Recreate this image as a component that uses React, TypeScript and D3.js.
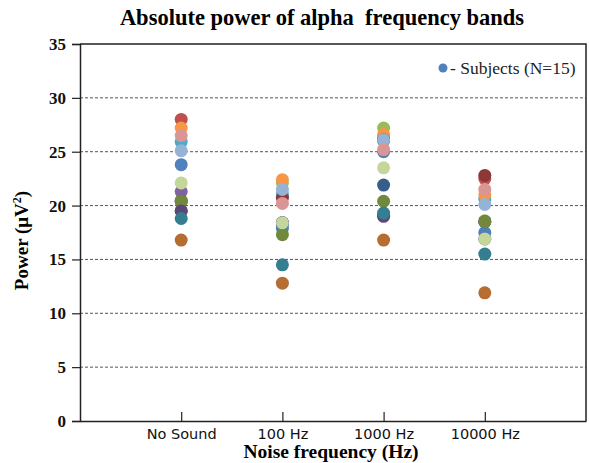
import { useEffect, useRef } from "react";
import * as d3 from "d3";

// categories on the x axis
const conditions = ["No Sound", "100 Hz", "1000 Hz", "10000 Hz"];
const yTicks = [0, 5, 10, 15, 20, 25, 30, 35];

// one array per subject, values for each condition
const s01 = [23.8, 17.9, 25.0, 17.5];
const s02 = [28.0, 20.9, 26.3, 22.5];
const s03 = [20.5, 22.1, 27.2, 18.6];
const s04 = [21.3, 18.4, 19.1, 18.5];
const s05 = [25.9, 21.1, 26.0, 20.6];
const s06 = [27.2, 22.4, 26.6, 21.0];
const s07 = [20.4, 18.4, 21.9, 18.5];
const s08 = [19.5, 20.7, 26.1, 22.8];
const s09 = [20.4, 17.3, 20.4, 18.5];
const s10 = [19.5, 18.4, 19.0, 16.9];
const s11 = [18.8, 14.5, 19.3, 15.5];
const s12 = [16.8, 12.8, 16.8, 11.9];
const s13 = [25.1, 21.5, 26.1, 20.1];
const s14 = [26.5, 20.2, 25.2, 21.5];
const s15 = [22.1, 18.4, 23.5, 16.9];

const subjects = [s01, s02, s03, s04, s05, s06, s07, s08, s09, s10, s11, s12, s13, s14, s15];

const colors = [
  "#4F81BD", "#C0504D", "#9BBB59", "#8064A2", "#4BACC6", "#F79646",
  "#385D8A", "#8C3836", "#71893F", "#5C4776", "#357D91", "#B66D31",
  "#95B3D7", "#D99694", "#C3D69B",
];

export default function App() {
  const ref = useRef<SVGSVGElement>(null);

  useEffect(() => {
    const width = 589;
    const height = 463;
    const marginLeft = 80;
    const marginRight = 3;
    const marginTop = 44;
    const marginBottom = 42;

    const svg = d3.select(ref.current);
    svg.selectAll("*").remove();

    const x = d3.scaleLinear([0, conditions.length + 1], [marginLeft, width - marginRight]);
    const y = d3.scaleLinear([0, 35], [height - marginBottom, marginTop]);

    const serif = "'Times New Roman', 'Liberation Serif', serif";

    svg.append("rect")
      .attr("width", width)
      .attr("height", height)
      .attr("fill", "white");

    // title
    svg.append("text")
      .attr("x", 322)
      .attr("y", 25)
      .attr("text-anchor", "middle")
      .attr("font-family", serif)
      .attr("font-weight", "bold")
      .attr("font-size", 22.5)
      .attr("xml:space", "preserve")
      .text("Absolute power of alpha  frequency bands");

    // gridlines
    svg.append("g")
      .selectAll("line")
      .data(yTicks.filter(d => d > 0 && d < 35))
      .join("line")
      .attr("x1", marginLeft)
      .attr("x2", width - marginRight)
      .attr("y1", d => y(d))
      .attr("y2", d => y(d))
      .attr("stroke", "#555")
      .attr("stroke-width", 1)
      .attr("stroke-dasharray", "3,2");

    // frame top / right
    svg.append("path")
      .attr("d", `M${marginLeft},${y(35)}H${width - marginRight}V${y(0)}`)
      .attr("fill", "none")
      .attr("stroke", "#222")
      .attr("stroke-width", 1.5);

    // y axis
    svg.append("g")
      .attr("transform", `translate(${marginLeft},0)`)
      .call(d3.axisLeft(y).tickValues(yTicks).tickSize(8).tickPadding(6))
      .call(g => g.select(".domain").attr("stroke", "#222").attr("stroke-width", 1.5))
      .call(g => g.selectAll(".tick line").attr("stroke", "#222").attr("stroke-width", 1.2))
      .call(g => g.selectAll(".tick text")
        .attr("font-family", serif)
        .attr("font-weight", "bold")
        .attr("font-size", 17)
        .attr("fill", "#111"));

    // x axis
    svg.append("g")
      .attr("transform", `translate(0,${y(0)})`)
      .call(d3.axisBottom(x)
        .tickValues(conditions.map((_, i) => i + 1))
        .tickFormat((d) => conditions[(d as number) - 1])
        .tickSize(-9)
        .tickSizeOuter(0)
        .tickPadding(8))
      .call(g => g.select(".domain").attr("stroke", "#222").attr("stroke-width", 1.5))
      .call(g => g.selectAll(".tick line").attr("stroke", "#222").attr("stroke-width", 1.2))
      .call(g => g.selectAll(".tick text")
        .attr("font-family", "'DejaVu Sans', Arial, sans-serif")
        .attr("font-size", 14.5)
        .attr("fill", "#111"));

    // axis titles
    svg.append("text")
      .attr("x", 331)
      .attr("y", 458)
      .attr("text-anchor", "middle")
      .attr("font-family", serif)
      .attr("font-weight", "bold")
      .attr("font-size", 19.5)
      .text("Noise frequency (Hz)");

    const yTitle = svg.append("text")
      .attr("transform", `translate(28,${(y(0) + y(35)) / 2 + 8}) rotate(-90)`)
      .attr("text-anchor", "middle")
      .attr("font-family", serif)
      .attr("font-weight", "bold")
      .attr("font-size", 19);
    yTitle.append("tspan").text("Power (μV");
    yTitle.append("tspan").attr("dy", -7).attr("font-size", 12).text("2");
    yTitle.append("tspan").attr("dy", 7).text(")");

    // points
    const dots = svg.append("g");
    subjects.forEach((vals, si) => {
      dots.append("g")
        .attr("fill", colors[si])
        .selectAll("circle")
        .data(vals)
        .join("circle")
        .attr("cx", (_, i) => x(i + 1))
        .attr("cy", d => y(d))
        .attr("r", 6.5);
    });

    // legend
    svg.append("circle")
      .attr("cx", 443)
      .attr("cy", 68)
      .attr("r", 4.5)
      .attr("fill", colors[0]);
    svg.append("text")
      .attr("x", 450)
      .attr("y", 74)
      .attr("font-family", serif)
      .attr("font-size", 17.5)
      .attr("fill", "#222")
      .text("- Subjects (N=15)");
  }, []);

  return <svg ref={ref} width={589} height={463} style={{ position: "absolute", left: 0, top: 0 }}></svg>;
}
